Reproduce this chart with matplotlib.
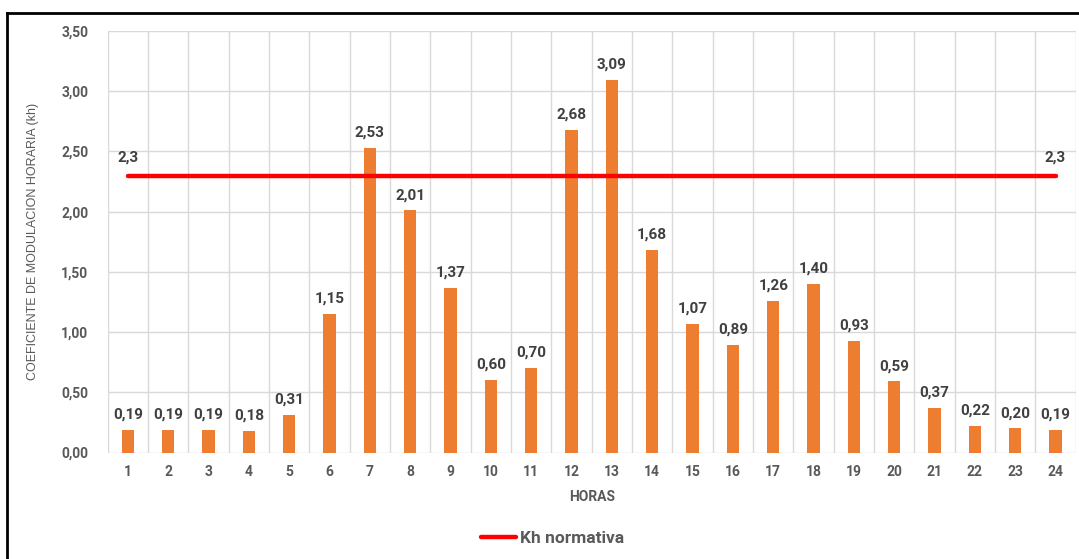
import matplotlib
matplotlib.use("Agg")
import matplotlib.pyplot as plt
from matplotlib.lines import Line2D

plt.rcParams['font.family'] = ['Roboto', 'DejaVu Sans']

horas = [str(h) for h in range(1, 25)]
kh = [0.19, 0.19, 0.19, 0.18, 0.31, 1.15, 2.53, 2.01, 1.37, 0.60, 0.70, 2.68,
      3.09, 1.68, 1.07, 0.89, 1.26, 1.40, 0.93, 0.59, 0.37, 0.22, 0.20, 0.19]
kh_normativa = 2.3
y_ticks = [0.0, 0.5, 1.0, 1.5, 2.0, 2.5, 3.0, 3.5]

BAR = '#ED7D31'
LINE = '#FF0000'
TICK = '#595959'
LABEL = '#404040'
GRID = '#D9D9D9'

W, H = 1079, 559
fig = plt.figure(figsize=(W / 100, H / 100), dpi=100)
ax = fig.add_axes([107.7 / W, 1 - 452.5 / H, (1075.7 - 107.7) / W, (452.5 - 31) / H])

x = list(range(len(horas)))
ax.bar(x, kh, width=0.31, color=BAR, zorder=3)
ax.plot([x[0], x[-1]], [kh_normativa, kh_normativa], color=LINE, lw=3.2,
        solid_capstyle='round', zorder=4)

for xi, v in zip(x, kh):
    ax.annotate(f"{v:.2f}".replace('.', ','), (xi, v), xytext=(0, 6),
                textcoords='offset points', ha='center', va='bottom',
                fontsize=11, fontweight='bold', color=LABEL, zorder=5)
for xi in (x[0], x[-1]):
    ax.annotate(f"{kh_normativa}".replace('.', ','), (xi, kh_normativa),
                xytext=(0, 8), textcoords='offset points', ha='center',
                va='bottom', fontsize=11, fontweight='bold', color=LABEL)

ax.set_xlim(-0.5, len(horas) - 0.5)
ax.set_ylim(0, 3.5)
ax.set_yticks(y_ticks)
ax.set_yticklabels([f"{t:.2f}".replace('.', ',') for t in y_ticks])
ax.set_xticks(x)
ax.set_xticklabels(horas)
ax.set_xticks([i - 0.5 for i in range(len(horas) + 1)], minor=True)

ax.grid(False)
ax.grid(True, which='minor', axis='x', color=GRID, lw=1.0, zorder=0)
ax.grid(True, which='major', axis='y', color=GRID, lw=1.0, zorder=0)
for s in ax.spines.values():
    s.set_visible(False)
ax.tick_params(which='both', length=0)
ax.tick_params(axis='y', pad=14, labelsize=10, labelcolor=TICK)
ax.tick_params(axis='x', pad=9, labelsize=10, labelcolor=TICK)
for lab in ax.get_xticklabels() + ax.get_yticklabels():
    lab.set_fontweight('bold')

ax.set_xlabel('HORAS', fontsize=10, fontweight='bold', color=TICK, labelpad=8)
fig.text(33 / W, 1 - 241 / H, 'COEFICIENTE DE MODULACION HORARIA (kh)',
         rotation=90, ha='center', va='center', fontsize=9,
         color=TICK, family=['Liberation Sans Narrow', 'Liberation Sans'])

handle = Line2D([], [], color=LINE, lw=3.2, solid_capstyle='round')
fig.legend([handle], ['Kh normativa'], loc='center',
           bbox_to_anchor=(553 / W, 1 - 538 / H), frameon=False,
           prop={'weight': 'bold', 'size': 12.5}, labelcolor=TICK,
           handlelength=2.0, handletextpad=0.25)

# outer frame along the left and top edges
fig.add_artist(Line2D([6.5 / W, 6.5 / W], [0, 1 - 12.5 / H], color='black',
                      lw=2, transform=fig.transFigure))
fig.add_artist(Line2D([6.5 / W, 1], [1 - 12.5 / H, 1 - 12.5 / H], color='black',
                      lw=2, transform=fig.transFigure))

fig.savefig('out.png', dpi=100, facecolor='white')
